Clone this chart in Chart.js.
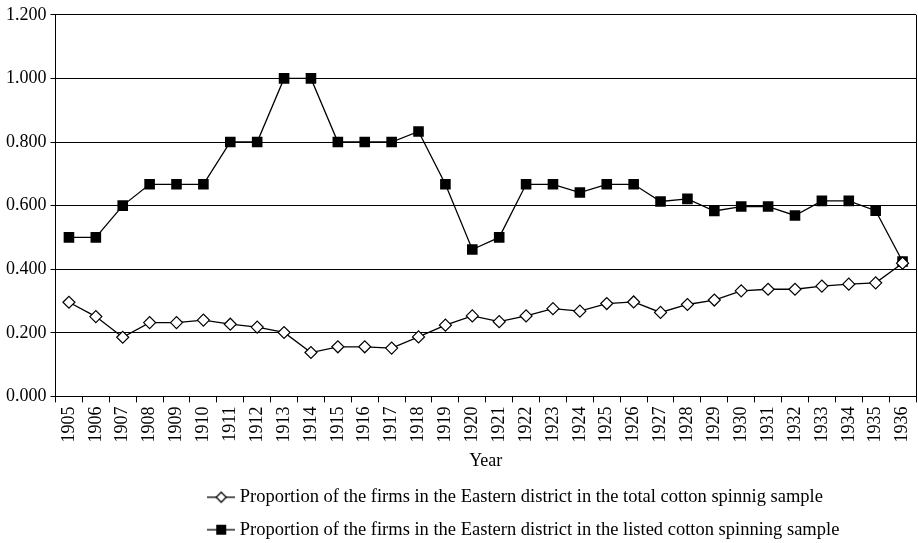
<!DOCTYPE html>
<html>
<head>
<meta charset="utf-8">
<script src="https://cdn.jsdelivr.net/npm/chart.js@4"></script>
<style>
  html, body { margin: 0; padding: 0; background: #fff; }
  canvas { display: block; }
</style>
</head>
<body>
<canvas id="chart" width="918" height="543"></canvas>
<script>
// years on the x axis
const years = [1905, 1906, 1907, 1908, 1909, 1910, 1911, 1912, 1913, 1914, 1915, 1916,
  1917, 1918, 1919, 1920, 1921, 1922, 1923, 1924, 1925, 1926, 1927, 1928, 1929, 1930,
  1931, 1932, 1933, 1934, 1935, 1936];

// share of Eastern district firms in the total cotton spinning sample
const totalSample = [0.296, 0.251, 0.186, 0.232, 0.232, 0.240, 0.227, 0.218, 0.201, 0.138,
  0.156, 0.156, 0.152, 0.187, 0.224, 0.253, 0.235, 0.253, 0.276, 0.268, 0.292, 0.297,
  0.264, 0.289, 0.303, 0.332, 0.337, 0.337, 0.347, 0.353, 0.357, 0.419];

// share of Eastern district firms in the listed cotton spinning sample
const listedSample = [0.500, 0.500, 0.600, 0.667, 0.667, 0.667, 0.800, 0.800, 1.000, 1.000,
  0.800, 0.800, 0.800, 0.833, 0.667, 0.462, 0.500, 0.667, 0.667, 0.641, 0.667, 0.667,
  0.613, 0.621, 0.583, 0.597, 0.597, 0.569, 0.615, 0.615, 0.584, 0.424];

const seriesLabels = [
  'Proportion of the firms in the Eastern district in the total cotton spinnig sample',
  'Proportion of the firms in the Eastern district in the listed cotton spinning sample'
];

const FONT = '"Liberation Serif", "Times New Roman", serif';

// little line-with-marker icons for the legend
function legendIcon(square) {
  const c = document.createElement('canvas');
  c.width = 28;
  c.height = 14;
  const g = c.getContext('2d');
  g.strokeStyle = '#000';
  g.lineWidth = 1.3;
  g.beginPath();
  g.moveTo(0, 7);
  g.lineTo(28, 7);
  g.stroke();
  if (square) {
    g.fillStyle = '#000';
    g.fillRect(9, 2, 10, 10);
  } else {
    g.fillStyle = '#fff';
    g.beginPath();
    g.moveTo(14, 2);
    g.lineTo(19, 7);
    g.lineTo(14, 12);
    g.lineTo(9, 7);
    g.closePath();
    g.fill();
    g.stroke();
  }
  return c;
}

// right edge of the plot box, and the legend moved to start at x=212
const frame = {
  id: 'frame',
  afterLayout: (chart) => {
    const lg = chart.legend;
    const shift = 212 - (lg.left + lg.options.labels.padding);
    lg.left += shift;
    lg.right += shift;
  },
  afterDraw: (chart) => {
    const {ctx, chartArea: a} = chart;
    ctx.save();
    ctx.strokeStyle = '#000';
    ctx.lineWidth = 1;
    ctx.beginPath();
    ctx.moveTo(Math.round(a.right) + 0.5, a.top);
    ctx.lineTo(Math.round(a.right) + 0.5, a.bottom);
    ctx.stroke();
    ctx.restore();
  }
};

const ctx = document.getElementById('chart').getContext('2d');
new Chart(ctx, {
  type: 'line',
  data: {
    labels: years,
    datasets: [{
      label: seriesLabels[0],
      data: totalSample,
      borderColor: '#000',
      borderWidth: 1.3,
      pointStyle: 'rectRot',
      pointRadius: 6,
      pointBackgroundColor: '#fff',
      pointBorderColor: '#000',
      pointBorderWidth: 1.2,
      tension: 0
    }, {
      label: seriesLabels[1],
      data: listedSample,
      borderColor: '#000',
      borderWidth: 1.3,
      pointStyle: 'rect',
      pointRadius: 7.5,
      pointBackgroundColor: '#000',
      pointBorderColor: '#000',
      pointBorderWidth: 0,
      tension: 0
    }]
  },
  options: {
    responsive: false,
    animation: false,
    layout: {autoPadding: false, padding: {left: 2, right: 2, top: 2, bottom: -6}},
    plugins: {
      tooltip: {enabled: false},
      legend: {
        position: 'bottom',
        align: 'start',
        labels: {
          color: '#000',
          font: {family: FONT, size: 18.5},
          usePointStyle: true,
          boxWidth: 28,
          boxHeight: 14,
          padding: 14,
          generateLabels: (chart) => chart.data.datasets.map((ds, i) => ({
            text: ds.label,
            pointStyle: legendIcon(i === 1),
            fontColor: '#000',
            lineWidth: 0,
            datasetIndex: i
          }))
        }
      }
    },
    scales: {
      x: {
        offset: true,
        afterFit: (axis) => { axis.paddingRight = 0; axis.paddingLeft = 0; },
        grid: {offset: true, drawOnChartArea: false, drawTicks: true, tickLength: 6, color: '#000'},
        border: {color: '#000', width: 1},
        ticks: {color: '#000', font: {family: FONT, size: 18}, minRotation: 90, maxRotation: 90, padding: 4, autoSkip: false},
        title: {display: true, text: 'Year', color: '#000', font: {family: FONT, size: 18}, padding: {top: 4, bottom: 2}}
      },
      y: {
        min: 0,
        max: 1.2,
        ticks: {stepSize: 0.2, color: '#000', font: {family: FONT, size: 18}, padding: 4,
          callback: (v) => v.toFixed(3)},
        grid: {color: '#000', lineWidth: 1, tickLength: 5},
        border: {color: '#000', width: 1}
      }
    }
  },
  plugins: [frame]
});
</script>
</body>
</html>
